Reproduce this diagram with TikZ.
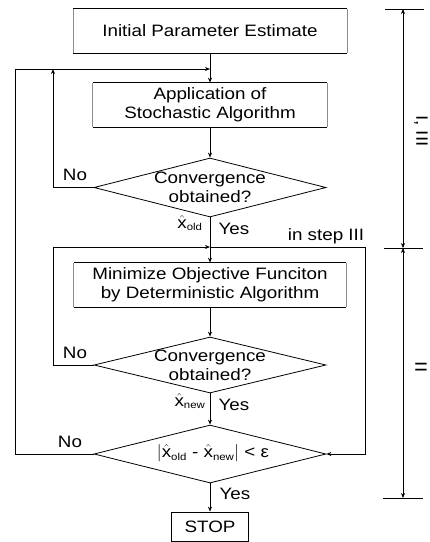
\documentclass[tikz,border=0pt]{standalone}
\usepackage{fontspec}
\setmainfont{Liberation Sans}[FakeStretch=1.14]
\usetikzlibrary{shapes.geometric,arrows.meta}
\newcommand{\xh}[1]{$\hat{\mbox{x}}_{\mbox{\fontsize{10}{10}\selectfont #1}}$}
\begin{document}
\begin{tikzpicture}[x=1pt,y=-1pt,
  font=\fontsize{16.5}{19}\selectfont,
  line width=0.8pt,
  box/.style={rectangle, inner sep=0pt, align=center},
  sidel/.style={draw=black!45, line width=0.5pt},
  dia/.style={diamond, draw, inner sep=0pt, minimum width=232pt},
  arr/.style={-{Stealth[length=5pt,width=4pt]}},
  dimarr/.style={{Stealth[length=5pt,width=4pt]}-{Stealth[length=5pt,width=4pt]}, line width=0.6pt},
  lbl/.style={inner sep=0pt}]
\useasboundingbox (0,0) rectangle (430,542);

% boxes
\node[box, minimum width=273pt, minimum height=44pt] (init) at (210,31) {Initial Parameter Estimate};
\node[box, minimum width=234pt, minimum height=44pt] (app) at (210,105) {Application of\\Stochastic Algorithm};
\node[box, minimum width=272pt, minimum height=44pt] (mini) at (210,285) {Minimize Objective Funciton\\by Deterministic Algorithm};
\node[box, draw, minimum width=77pt, minimum height=29pt] (stop) at (210,526.5) {STOP};

\foreach \b in {init,app,mini}{
  \draw (\b.north west) -- (\b.north east);
  \draw (\b.south west) -- (\b.south east);
  \draw[sidel] (\b.north west) -- (\b.south west);
  \draw[sidel] (\b.north east) -- (\b.south east);
}

% diamonds
\node[dia, minimum height=59pt] (d1) at (210,187.5) {};
\node[lbl, align=center] (d1t) at (d1) {Convergence\\obtained?};
\node[dia, minimum height=56pt] (d2) at (210,365) {};
\node[lbl, align=center] (d2t) at (d2) {Convergence\\obtained?};
\node[dia, minimum height=58pt] (d3) at (210,454) {};
\node[lbl] (d3t) at (213,453) {$|$\xh{old} - \xh{new}$|$ < ε};

% junctions
\coordinate (j1) at (210,69);
\coordinate (j2) at (210,247);
\coordinate (lo) at (15,69);
\coordinate (li) at (53,69);
\coordinate (lj) at (53,247);
\coordinate (rj) at (365,247);

% main flow
\draw[arr] (init.south) -- (app.north);
\draw[arr] (app.south) -- (d1.north);
\draw[arr] (d1.south) -- (mini.north);
\draw[arr] (mini.south) -- (d2.north);
\draw[arr] (d2.south) -- (d3.north);
\draw[arr] (d3.south) -- (stop.north);

% loops
\draw[arr] (d3.west) -| (lo) -- (j1);
\draw[arr] (d1.west) -| (li);
\draw[arr] (d2.west) -| (lj) -- (j2);
\draw[arr] (j2) -- (rj) |- (d3.east);

% labels
\node[lbl] (no1) at (75,175) {No};
\node[lbl] (no2) at (75,353) {No};
\node[lbl] (no3) at (70,442) {No};
\node[lbl] (xo) at (190,223) {\xh{old}};
\node[lbl] (y1) at (234,229) {Yes};
\node[lbl] (st3) at (326,236) {in step III};
\node[lbl] (xn) at (190,401) {\xh{new}};
\node[lbl] (y2) at (234,405) {Yes};
\node[lbl] (y3) at (235,494) {Yes};

% dimension lines
\coordinate (t1) at (403,9);
\coordinate (t2) at (403,248);
\coordinate (t3) at (403,498);
\draw[dimarr] (t1) -- (t2);
\draw[dimarr] (t2) -- (t3);
\draw ([xshift=-18pt]t1) -- ([xshift=21pt]t1);
\draw ([xshift=-19pt]t2) -- ([xshift=20pt]t2);
\draw ([xshift=-20pt]t3) -- ([xshift=20pt]t3);
\node[lbl, rotate=-90] (r1) at (421,131) {I, III};
\node[lbl, rotate=-90] (r2) at (421,367) {II};
\end{tikzpicture}
\end{document}
